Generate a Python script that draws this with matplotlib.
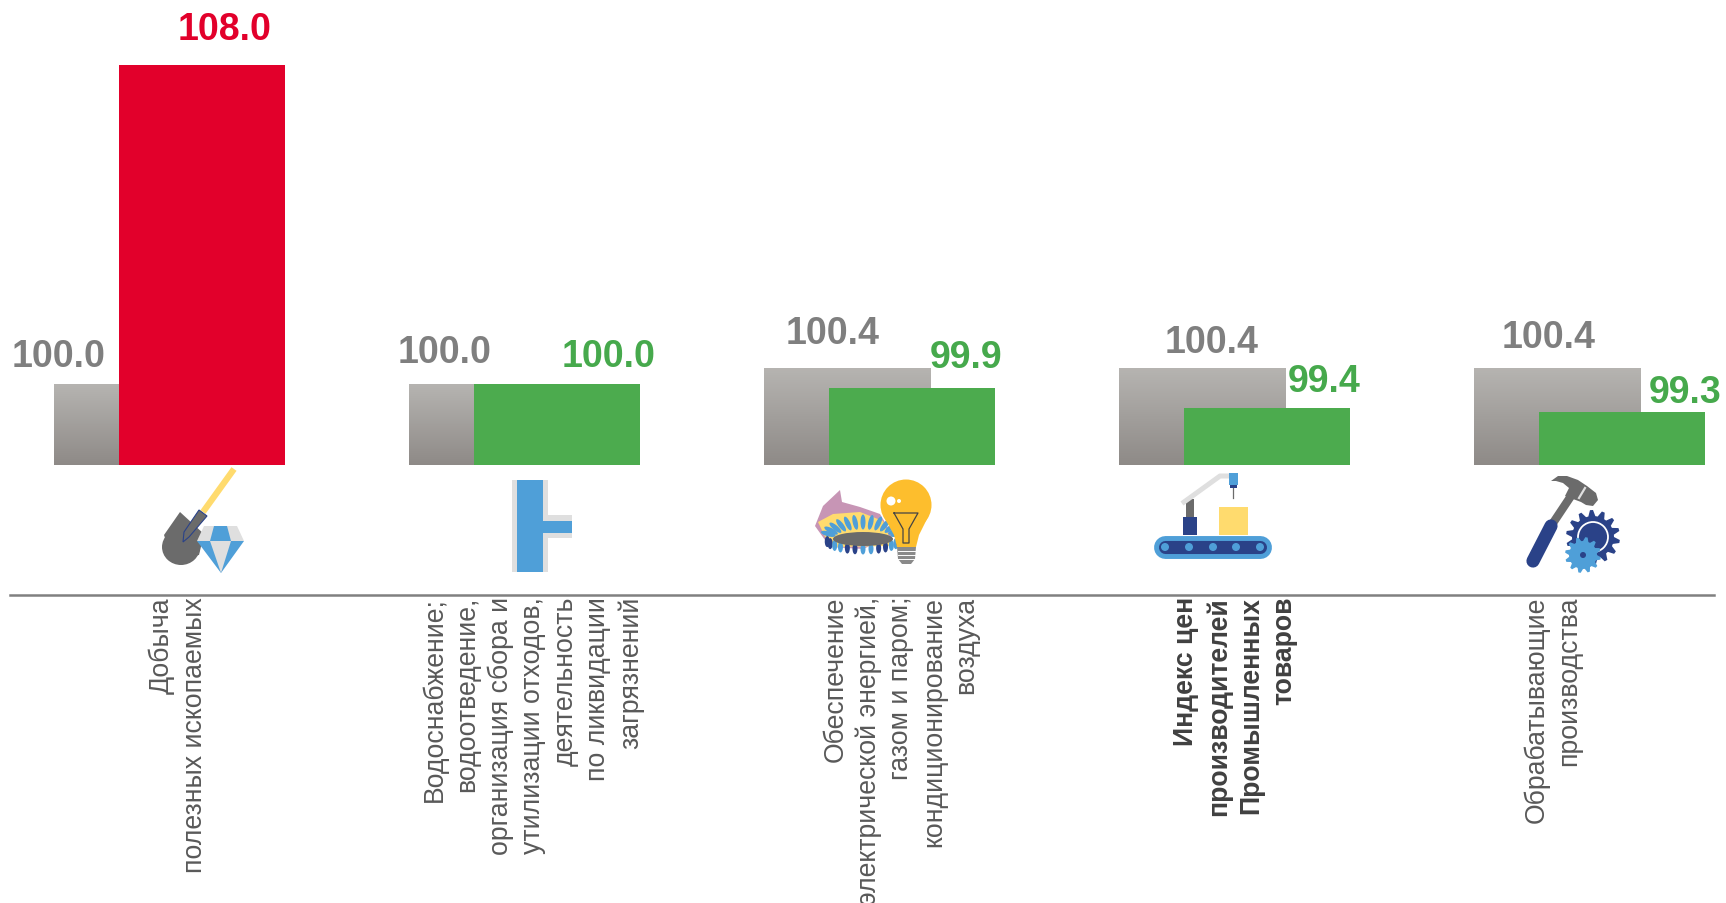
import numpy as np
import matplotlib
matplotlib.use('Agg')
import matplotlib.pyplot as plt
from matplotlib.colors import LinearSegmentedColormap
from matplotlib.patches import Circle, Ellipse, Polygon, Rectangle

plt.rcParams['font.family'] = ['Liberation Sans', 'DejaVu Sans']

# Data
categories = [
    'Добыча\nполезных ископаемых',
    'Водоснабжение;\nводоотведение,\nорганизация сбора и\nутилизации отходов,\n'
    'деятельность\nпо ликвидации\nзагрязнений',
    'Обеспечение\nэлектрической энергией,\nгазом и паром;\nкондиционирование\nвоздуха',
    'Индекс цен\nпроизводителей\nПромышленных\nтоваров',
    'Обрабатывающие\nпроизводства',
]
previous_values = [100.0, 100.0, 100.4, 100.4, 100.4]
current_values = [108.0, 100.0, 99.9, 99.4, 99.3]

# Layout, in pixels of the 1726x904 picture
WIDTH, HEIGHT = 1726, 904
previous_label_xy = [(59, 357), (445, 353), (833, 334), (1212, 343), (1549, 338)]
current_label_xy = [(225, 30), (609, 357), (966, 358), (1324, 382), (1685, 393)]
category_label_x = [178, 533, 901, 1235, 1553]

GREY_TOP, GREY_BOTTOM = '#B6B4B1', '#8E8A87'
RED, GREEN = '#E2002B', '#4CAB4E'
BLUE, NAVY = '#4F9FD8', '#2A4288'
YELLOW, ICON_GREY, PALE_GREY = '#FFDB6E', '#6B6B6B', '#DFDFDF'

figure = plt.figure(figsize=(WIDTH / 100, HEIGHT / 100), dpi=100)

# Bars live in a full-figure axes whose scales put the truncated base at y=465.
axes = figure.add_axes([0, 0, 1, 1])
axes.axis('off')
base_value = 97.97
bar_width = 0.468
offset = 0.183
gradient = np.linspace(0, 1, 256).reshape(-1, 1)
grey_map = LinearSegmentedColormap.from_list('grey_bar', [GREY_TOP, GREY_BOTTOM])

for index, (previous, current) in enumerate(zip(previous_values, current_values)):
    grey_bar = axes.bar(index, previous - base_value, bar_width, bottom=base_value,
                        align='edge', color=GREY_BOTTOM, zorder=1)[0]
    image = axes.imshow(gradient, cmap=grey_map, aspect='auto', zorder=1.5,
                        extent=(index, index + bar_width, base_value, previous))
    image.set_clip_path(grey_bar)
    axes.bar(index + offset, current - base_value, bar_width, bottom=base_value,
             align='edge', color=RED if current > 100.0 else GREEN, zorder=2)

axes.set_xlim(-54 / 355, (WIDTH - 54) / 355)
pixels_per_unit = 39.8
axes.set_ylim(108.0 - (HEIGHT - 66.5) / pixels_per_unit, 108.0 + 66.5 / pixels_per_unit)

# Overlay in pixel coordinates for labels, the base line and the icons.
overlay = figure.add_axes([0, 0, 1, 1], facecolor='none')
overlay.set_xlim(0, WIDTH)
overlay.set_ylim(HEIGHT, 0)
overlay.axis('off')

for value, (x, y) in zip(previous_values, previous_label_xy):
    overlay.text(x, y, f'{value:.1f}', color='#7F7F7F', fontsize=27,
                 fontweight='bold', ha='center', va='center')

for value, (x, y) in zip(current_values, current_label_xy):
    overlay.text(x, y, f'{value:.1f}', color=RED if value > 100.0 else '#46A94C',
                 fontsize=27, fontweight='bold', ha='center', va='center')

overlay.plot([10, 1714], [595.5, 595.5], color='#808080', linewidth=1.8)

for index, (name, x) in enumerate(zip(categories, category_label_x)):
    overlay.text(x, 597, name, rotation=90, ha='center', va='top',
                 multialignment='right', fontsize=19.2, linespacing=1.33,
                 color='#404040' if index == 3 else '#595959',
                 fontweight='bold' if index == 3 else 'normal')


def poly(points, color, **kwargs):
    overlay.add_patch(Polygon(points, closed=True, facecolor=color, edgecolor='none', **kwargs))


def gear(cx, cy, outer, inner, teeth, color):
    angles = np.linspace(0, 2 * np.pi, teeth * 4, endpoint=False)
    radii = np.tile([inner, outer, outer, inner], teeth)
    poly(np.column_stack([cx + radii * np.cos(angles), cy + radii * np.sin(angles)]), color)


# Shovel and diamond
overlay.plot([234, 203], [470, 513], color=YELLOW, linewidth=4.5, solid_capstyle='butt')
overlay.add_patch(Ellipse((181, 548), 38, 36, color=ICON_GREY, linewidth=0))
poly([(180, 513), (164, 536), (172, 560), (199, 556), (204, 535)], ICON_GREY)
overlay.add_patch(Polygon([(199, 511), (207, 517), (189, 538), (183, 543), (184, 533)],
                          closed=True, facecolor=ICON_GREY, edgecolor=NAVY, linewidth=0.8,
                          zorder=3))
poly([(204, 527), (237, 527), (244, 542), (197, 542)], PALE_GREY)
poly([(214, 527), (227, 527), (231, 542), (210, 542)], BLUE)
poly([(197, 542), (244, 542), (221, 574)], BLUE)
poly([(210, 542), (231, 542), (221, 574)], PALE_GREY)

# Pipe
overlay.add_patch(Rectangle((512, 481), 36, 92, color=PALE_GREY, linewidth=0))
overlay.add_patch(Rectangle((548, 516), 24, 23, color=PALE_GREY, linewidth=0))
overlay.add_patch(Rectangle((517, 481), 26, 92, color=BLUE, linewidth=0))
overlay.add_patch(Rectangle((543, 522), 29, 12, color=BLUE, linewidth=0))

# Burner flame and light bulb
poly([(840, 491), (842, 503), (860, 508), (880, 515), (893, 537), (863, 550), (830, 548),
      (815, 527), (823, 507)], '#C795B5')
poly([(818, 523), (833, 515), (860, 513), (883, 522), (893, 547), (830, 548)], YELLOW)
for angle in np.linspace(165, 15, 13):
    rad = np.radians(angle)
    overlay.add_patch(Ellipse((863 + 36 * np.cos(rad), 539 - 16 * np.sin(rad)), 5, 15,
                              angle=90 - angle, color=BLUE, linewidth=0))
for angle in np.linspace(195, 345, 13):
    rad = np.radians(angle)
    overlay.add_patch(Ellipse((863 + 37 * np.cos(rad), 540 - 10 * np.sin(rad)), 5, 11,
                              color=NAVY if int(angle) % 2 else BLUE, linewidth=0))
overlay.add_patch(Ellipse((863, 540), 60, 14, color=ICON_GREY, linewidth=0))
overlay.add_patch(Circle((906, 506), 25.5, color='#FDBE2D', linewidth=0))
poly([(884, 518), (928, 518), (919, 536), (916, 548), (897, 548), (894, 536)], '#FDBE2D')
overlay.add_patch(Circle((891, 502), 4.5, color='white', linewidth=0))
overlay.add_patch(Circle((899, 502), 2, color='white', linewidth=0))
overlay.plot([894, 918, 909, 909, 903, 903, 894], [514, 514, 530, 544, 544, 530, 514],
             color='#444444', linewidth=0.9)
poly([(897, 548), (916, 548), (915, 560), (911, 565), (902, 565), (898, 560)], '#8A8A8A')
for y in [552, 556, 560]:
    overlay.plot([898, 915], [y, y], color='white', linewidth=0.7)

# Conveyor
overlay.plot([1165, 1260], [547.5, 547.5], color=BLUE, linewidth=16.5, solid_capstyle='round')
overlay.plot([1165, 1260], [548, 548], color=NAVY, linewidth=9.4, solid_capstyle='round')
for x in [1165, 1189, 1213, 1236, 1260]:
    overlay.add_patch(Circle((x, 548), 4, color=BLUE, linewidth=0, zorder=3))
overlay.add_patch(Rectangle((1219, 508), 29, 28, color=YELLOW, linewidth=0))
overlay.add_patch(Rectangle((1183, 518), 14, 18, color=NAVY, linewidth=0))
overlay.add_patch(Rectangle((1186, 500), 8, 18, color=ICON_GREY, linewidth=0))
overlay.plot([1184, 1220, 1232], [503, 477, 477], color=PALE_GREY, linewidth=3.6)
overlay.add_patch(Rectangle((1229, 474), 9, 12, color=BLUE, linewidth=0, zorder=3))
overlay.add_patch(Rectangle((1230, 486), 7, 3, color=NAVY, linewidth=0, zorder=3))
overlay.plot([1233, 1233], [489, 499], color=ICON_GREY, linewidth=0.9)

# Hammer and gears
overlay.plot([1571, 1551], [497, 527], color=ICON_GREY, linewidth=6, solid_capstyle='butt')
overlay.plot([1551, 1533], [527, 562], color=NAVY, linewidth=9.5, solid_capstyle='round')
poly([(1551, 482), (1558, 477), (1567, 477), (1578, 481), (1587, 487), (1596, 494), (1598, 501),
      (1593, 507), (1586, 506), (1581, 503), (1565, 497), (1569, 489), (1563, 484), (1556, 482)],
     ICON_GREY, zorder=3)
overlay.plot([1585, 1579], [489, 499], color=PALE_GREY, linewidth=1.6, zorder=4)
gear(1593, 538, 27, 21, 14, NAVY)
overlay.add_patch(Circle((1593, 538), 15, facecolor='none', edgecolor='white', linewidth=1.3))
gear(1583, 556, 18, 14, 12, BLUE)
overlay.add_patch(Circle((1583, 556), 3, color=NAVY, linewidth=0))

figure.savefig('out.png', dpi=100)
